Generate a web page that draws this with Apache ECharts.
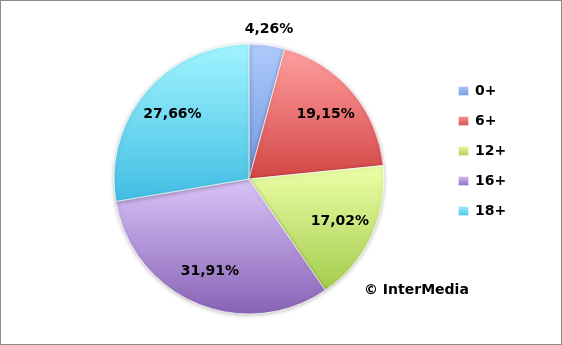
<!DOCTYPE html>
<html>
<head>
<meta charset="utf-8">
<script src="https://cdn.jsdelivr.net/npm/echarts@6/dist/echarts.min.js"></script>
<style>
html,body{margin:0;padding:0;background:#fff;}
#c{width:562px;height:345px;box-sizing:border-box;border:1px solid #8c8c8c;}
</style>
</head>
<body>
<div id="c"></div>
<script>
const categories = ['0+', '6+', '12+', '16+', '18+'];
const values = [4.26, 19.15, 17.02, 31.91, 27.66];
const labels = ['4,26%', '19,15%', '17,02%', '31,91%', '27,66%'];
const lightColors = ['#aecbfb', '#ffa0a0', '#ecffa8', '#dac4f8', '#a2f5ff'];
const darkColors = ['#7197e0', '#d44545', '#a3cc4c', '#8863b6', '#40bde3'];

const chart = echarts.init(document.getElementById('c'));
const FONT = 'DejaVu Sans';
const center = [248, 178];
const R = 135;

function grad(i) {
  return new echarts.graphic.LinearGradient(0, 0, 0, 1, [
    { offset: 0, color: lightColors[i] },
    { offset: 1, color: darkColors[i] }
  ]);
}

const visualData = categories.map((c, i) => ({
  name: c, value: values[i],
  itemStyle: { color: grad(i) }
}));

const innerLabelData = categories.map((c, i) => ({
  name: c, value: values[i],
  label: { show: i !== 0, formatter: labels[i] }
}));
const outerLabelData = categories.map((c, i) => ({
  name: c, value: values[i],
  label: { show: i === 0, formatter: labels[i] }
}));

const labelStyle = {
  position: 'inside',
  fontFamily: FONT, fontWeight: 'bold', fontSize: 14, color: '#000'
};

chart.setOption({
  animation: false,
  legend: {
    orient: 'vertical',
    left: 451, top: 78,
    itemWidth: 11, itemHeight: 10,
    itemGap: 16,
    icon: 'rect',
    data: categories,
    textStyle: { fontFamily: FONT, fontWeight: 'bold', fontSize: 14, color: '#000', lineHeight: 14, padding: [0, 0, 0, 1] }
  },
  graphic: [{
    type: 'text', left: 363, top: 282,
    style: { text: '© InterMedia', font: 'bold 14px "DejaVu Sans"', fill: '#000' }
  }],
  series: [
    {
      type: 'pie', center: center, radius: [0, R],
      startAngle: 90, clockwise: true,
      label: { show: false }, labelLine: { show: false },
      itemStyle: { borderColor: 'rgba(255,255,255,0.7)', borderWidth: 1,
        shadowColor: 'rgba(0,0,0,0.25)', shadowBlur: 4, shadowOffsetY: 1 },
      emphasis: { disabled: true },
      data: visualData
    },
    {
      type: 'pie', center: center, radius: [R * 0.44, R],
      startAngle: 90, clockwise: true, silent: true,
      itemStyle: { color: 'transparent' },
      label: labelStyle, labelLine: { show: false },
      emphasis: { disabled: true },
      legendHoverLink: false,
      data: innerLabelData
    },
    {
      type: 'pie', center: center, radius: [R + 4, R + 21],
      startAngle: 90, clockwise: true, silent: true,
      itemStyle: { color: 'transparent' },
      label: labelStyle, labelLine: { show: false },
      emphasis: { disabled: true },
      legendHoverLink: false,
      data: outerLabelData
    }
  ]
});
</script>
</body>
</html>
